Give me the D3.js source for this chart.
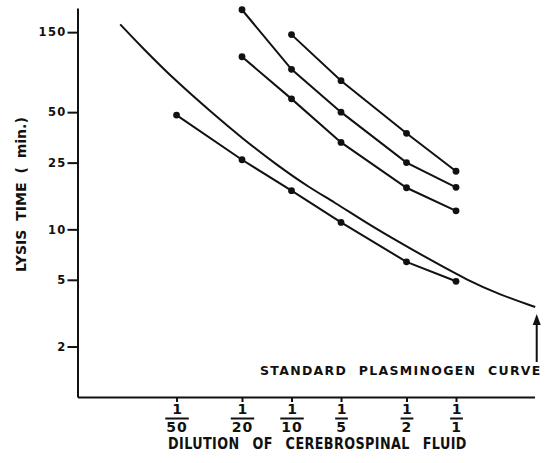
<!DOCTYPE html>
<html>
<head>
<meta charset="utf-8">
<script src="https://cdn.jsdelivr.net/npm/d3@7"></script>
<style>
  body { margin: 0; background: #fff; }
  text { font-family: "DejaVu Sans", sans-serif; font-weight: bold; fill: #111; }
  .axis path, .axis line { stroke: #111; stroke-width: 2; }
  .series { fill: none; stroke: #111; stroke-width: 2; }
</style>
</head>
<body>
<svg id="chart" width="552" height="463"></svg>
<script>
//////////////////////////////////////////////////////////////////////////////
// Data
//////////////////////////////////////////////////////////////////////////////

// dilution denominators (1/50 ... 1/1) and lysis time ticks
var x_dilutions = [50, 20, 10, 5, 2, 1]
var y_tick_values = [150, 50, 25, 10, 5, 2]

var series_a_dil = [20, 10, 5, 2, 1]
var series_a_time = [204, 90, 50, 25, 17.8]

var series_b_dil = [10, 5, 2, 1]
var series_b_time = [145, 77, 37.4, 22.2]

var series_c_dil = [20, 10, 5, 2, 1]
var series_c_time = [107, 60, 33, 17.7, 12.9]

var series_d_dil = [50, 20, 10, 5, 2, 1]
var series_d_time = [48, 26, 17, 11, 6.4, 4.9]

// standard plasminogen curve
var std_dil = [110, 80, 50, 31, 20, 12.3, 7.7, 5.6, 3.5, 2.2, 1.37, 0.86, 0.54, 0.33]
var std_time = [167, 120, 76, 50.4, 35, 24.2, 17.6, 14.7, 10.9, 8.34, 6.42, 5.0, 4.07, 3.44]

//////////////////////////////////////////////////////////////////////////////
// Scales
//////////////////////////////////////////////////////////////////////////////

var svg = d3.select('#chart')

var x = d3.scaleLog().domain([1 / 200, 3]).range([77.5, 534.5])
var y = d3.scaleLog().domain([1, 209]).range([397, 8])

function px(d) { return x(1 / d[0]) }
function py(d) { return y(d[1]) }

// squeeze a text horizontally so it spans the given width
function fit_text(sel, tx, ty, width, rotate) {
  var len = sel.node().getComputedTextLength()
  sel.attr('transform', 'translate(' + tx + ',' + ty + ')' +
    (rotate ? ' rotate(' + rotate + ')' : '') + ' scale(' + (width / len) + ',1)')
}

//////////////////////////////////////////////////////////////////////////////
// Axes
//////////////////////////////////////////////////////////////////////////////

var g_y = svg.append('g')
  .attr('class', 'axis')
  .attr('transform', 'translate(77.5,0)')
  .call(d3.axisLeft(y).tickValues(y_tick_values).tickSize(10).tickSizeOuter(0)
    .tickPadding(1).tickFormat(d3.format('d')))
g_y.selectAll('text')
  .style('font-size', '11.5px')
  .style('letter-spacing', '1.3px')

var g_x = svg.append('g')
  .attr('class', 'axis')
  .attr('transform', 'translate(0,397)')
  .call(d3.axisBottom(x).tickValues(x_dilutions.map(d => 1 / d)).tickSize(5)
    .tickSizeOuter(0).tickFormat(() => '1'))
g_x.selectAll('.tick text')
  .attr('y', 17).attr('dy', 0)
  .style('font-size', '14px')

// fraction bar and denominator under each "1"
g_x.selectAll('.tick').each(function(c) {
  var g = d3.select(this)
  var den = g.append('text')
    .attr('y', 35)
    .attr('text-anchor', 'middle')
    .style('font-size', '14px')
    .style('letter-spacing', '1px')
    .text(Math.round(1 / c))
  var w = den.node().getComputedTextLength()
  g.append('line')
    .attr('x1', -w / 2 - 1).attr('x2', w / 2 + 1)
    .attr('y1', 21.5).attr('y2', 21.5)
})

//////////////////////////////////////////////////////////////////////////////
// Titles
//////////////////////////////////////////////////////////////////////////////

var x_title = svg.append('text')
  .style('font-size', '16px')
  .style('word-spacing', '10px')
  .style('letter-spacing', '0.5px')
  .text('DILUTION OF CEREBROSPINAL FLUID')
fit_text(x_title, 168, 449, 299)

var y_title = svg.append('text')
  .style('font-size', '14px')
  .style('word-spacing', '4px')
  .text('LYSIS TIME ( min.)')
fit_text(y_title, 25.5, 272, 155, -90)

svg.append('text')
  .attr('x', 260).attr('y', 375)
  .style('font-size', '12.5px')
  .style('word-spacing', '6px')
  .style('letter-spacing', '1.3px')
  .text('STANDARD PLASMINOGEN CURVE')

// arrow pointing to the end of the standard curve
var arrow_x = x(1 / std_dil[std_dil.length - 1]) + 1.5
svg.append('line')
  .attr('x1', arrow_x).attr('x2', arrow_x)
  .attr('y1', 362).attr('y2', 322)
  .attr('stroke', '#111').attr('stroke-width', 2)
svg.append('path')
  .attr('d', d3.line()([[arrow_x, 314], [arrow_x - 4, 325], [arrow_x + 4, 325]]))
  .attr('fill', '#111')

//////////////////////////////////////////////////////////////////////////////
// Curves
//////////////////////////////////////////////////////////////////////////////

var std_points = d3.zip(std_dil, std_time)
svg.append('path')
  .attr('class', 'series')
  .attr('d', d3.line().x(px).y(py).curve(d3.curveBasis)(std_points))

var all_series = [
  d3.zip(series_a_dil, series_a_time),
  d3.zip(series_b_dil, series_b_time),
  d3.zip(series_c_dil, series_c_time),
  d3.zip(series_d_dil, series_d_time)
]

all_series.forEach(function(pts) {
  svg.append('path')
    .attr('class', 'series')
    .attr('d', d3.line().x(px).y(py)(pts))

  svg.selectAll(null)
    .data(pts)
    .enter()
    .append('circle')
    .attr('cx', px)
    .attr('cy', py)
    .attr('r', 3.4)
    .attr('fill', '#111')
})
</script>
</body>
</html>
